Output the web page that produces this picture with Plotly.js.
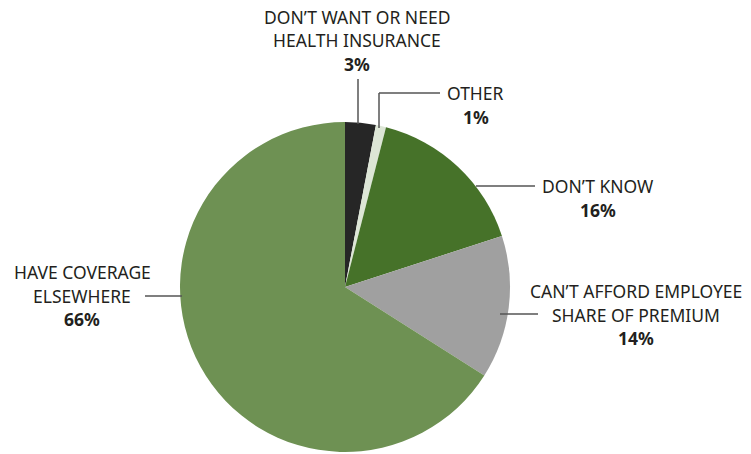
<!DOCTYPE html>
<html><head><meta charset="utf-8">
<script src="https://cdn.plot.ly/plotly-3.0.1.min.js"></script>
<style>html,body{margin:0;padding:0;background:#fff}#chart{width:751px;height:454px}</style>
</head><body><div id="chart"></div>
<script>
var categories = ["DON\u2019T WANT OR NEED|HEALTH INSURANCE", "OTHER", "DON\u2019T KNOW", "CAN\u2019T AFFORD EMPLOYEE|SHARE OF PREMIUM", "HAVE COVERAGE|ELSEWHERE"];
var values = [3, 1, 16, 14, 66];
var colors = ["#262626", "#dde6d6", "#467229", "#a0a0a0", "#6e9153"];

var W = 751, H = 454;
var cx = 345, cy = 287, R = 165;
var plotTop = cy - R, plotBot = cy + R;
function px(x){ return x / W; }
function py(y){ return (plotBot - y) / (plotBot - plotTop); }

// label anchor positions (centre x, top-line y) and leader lines
var labelPos = [
  {x: 357, y: 17},
  {x: 476, y: 93},
  {x: 598, y: 186},
  {x: 636, y: 291},
  {x: 82,  y: 272}
];
var leaders = [
  [[358, 79], [358, 124]],
  [[440, 93], [379, 93], [379, 128]],
  [[476, 186], [535, 186]],
  [[500, 314], [538, 314]],
  [[145, 296], [182, 296]]
];

var annotations = [];
categories.forEach(function(c, i){
  var lines = c.split("|");
  lines.push("<b>" + values[i] + "%</b>");
  lines.forEach(function(t, j){
    annotations.push({
      xref: "paper", yref: "paper",
      x: px(labelPos[i].x), y: py(labelPos[i].y + j * 23.5),
      xanchor: "center", yanchor: "middle",
      text: t, showarrow: false,
      font: {family: "Noto Sans, sans-serif", size: 17.5, color: "#231f20"}
    });
  });
});

var shapes = [];
leaders.forEach(function(pts){
  for (var k = 0; k < pts.length - 1; k++) {
    shapes.push({
      type: "line", xref: "paper", yref: "paper",
      x0: px(pts[k][0]), y0: py(pts[k][1]),
      x1: px(pts[k+1][0]), y1: py(pts[k+1][1]),
      line: {color: "#555555", width: 1.5}
    });
  }
});

var trace = {
  type: "pie",
  labels: categories.map(function(c){ return c.replace("|", " "); }),
  values: values,
  sort: false,
  direction: "clockwise",
  rotation: 0,
  textinfo: "none",
  hoverinfo: "label+percent",
  marker: {colors: colors, line: {width: 0}},
  domain: {x: [px(cx - R), px(cx + R)], y: [0, 1]},
  showlegend: false
};

var layout = {
  width: W, height: H,
  margin: {l: 0, r: 0, t: plotTop, b: H - plotBot, pad: 0},
  paper_bgcolor: "#ffffff",
  plot_bgcolor: "#ffffff",
  showlegend: false,
  annotations: annotations,
  shapes: shapes
};

Plotly.newPlot("chart", [trace], layout, {displayModeBar: false, staticPlot: true});
</script></body></html>
